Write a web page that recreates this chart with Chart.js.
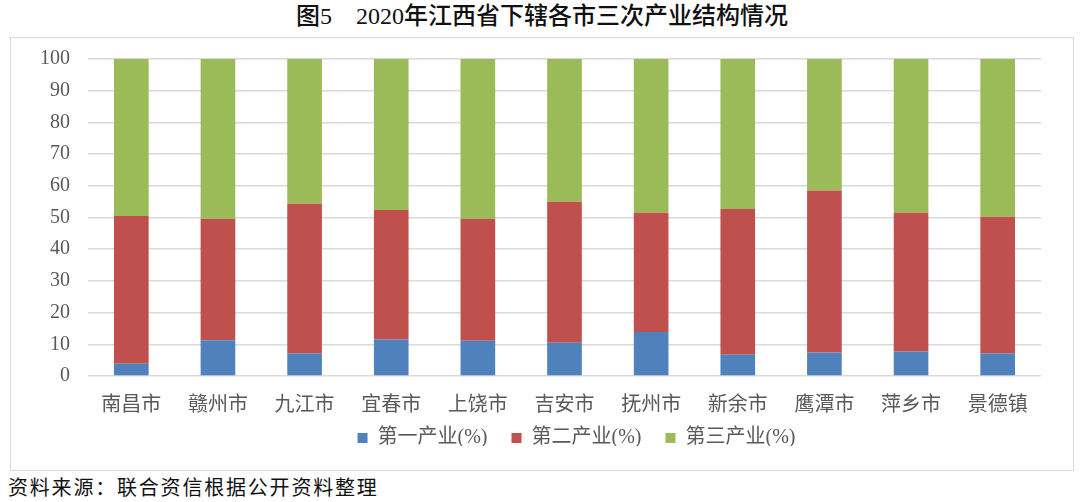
<!DOCTYPE html>
<html lang="zh">
<head>
<meta charset="UTF-8">
<title>2020年江西省下辖各市三次产业结构情况</title>
<script src="https://cdn.jsdelivr.net/npm/chart.js@4/dist/chart.umd.min.js"></script>
<style>
  body { margin: 0; width: 1080px; height: 502px; background: #fff; position: relative; overflow: hidden; }
  #title {
    position: absolute; left: 0; top: 0; width: 1084px; text-align: center;
    font-family: "Liberation Serif", "Noto Sans CJK SC", serif; font-weight: 500;
    font-size: 24px; line-height: 32px; color: #111;
  }
  #box {
    position: absolute; left: 10px; top: 37px; width: 1062px; height: 432px;
    border: 1px solid #d9d9d9;
  }
  #source {
    position: absolute; left: 8px; top: 474px; letter-spacing: 1.8px;
    font-family: "Noto Sans CJK SC", sans-serif; font-size: 20px; line-height: 26px; color: #111;
  }
</style>
</head>
<body>
<div id="title">图5&nbsp;&nbsp;&nbsp;&nbsp;2020年江西省下辖各市三次产业结构情况</div>
<div id="box"><canvas id="chart" width="1062" height="432"></canvas></div>
<div id="source">资料来源：联合资信根据公开资料整理</div>

<script>
  // 数据
  const cities = ['南昌市', '赣州市', '九江市', '宜春市', '上饶市', '吉安市', '抚州市', '新余市', '鹰潭市', '萍乡市', '景德镇'];
  const primary = [3.9, 11.3, 7.1, 11.5, 11.1, 10.5, 13.9, 6.7, 7.4, 7.7, 7.1];
  const secondary = [46.6, 38.2, 47.2, 40.9, 38.4, 44.5, 37.6, 46.0, 51.1, 43.8, 43.1];
  const tertiary = [49.5, 50.5, 45.7, 47.6, 50.5, 45.0, 48.5, 47.3, 41.5, 48.5, 49.8];
  const yTicks = [0, 10, 20, 30, 40, 50, 60, 70, 80, 90, 100];

  const textFont = "'Liberation Serif', 'Noto Sans CJK SC', serif";

  // 图例上移右移：水平间距要大、垂直间距要小
  const legendLift = {
    id: 'legendLift',
    afterLayout(chart) {
      const lg = chart.legend;
      lg.top -= 24;
      lg.bottom -= 24;
      lg.left += 12;
      lg.right += 12;
    }
  };

  const ctx = document.getElementById('chart').getContext('2d');
  new Chart(ctx, {
    type: 'bar',
    data: {
      labels: cities,
      datasets: [
        { label: '第一产业(%)', data: primary, backgroundColor: '#4F81BD' },
        { label: '第二产业(%)', data: secondary, backgroundColor: '#C0504D' },
        { label: '第三产业(%)', data: tertiary, backgroundColor: '#9BBB59' }
      ]
    },
    options: {
      responsive: false,
      animation: false,
      layout: { padding: { left: 11, right: 32, top: 21, bottom: 0 } },
      datasets: { bar: { barPercentage: 0.8, categoryPercentage: 0.5 } },
      scales: {
        x: {
          stacked: true,
          grid: { display: false },
          border: { display: false },
          ticks: { color: '#595959', font: { family: textFont, size: 20 }, padding: 10 }
        },
        y: {
          stacked: true,
          min: 0, max: 100,
          afterBuildTicks: axis => { axis.ticks = yTicks.map(v => ({ value: v })); },
          afterFit: axis => { axis.paddingTop = 12; axis.paddingBottom = 12; },
          grid: { color: '#d9d9d9', lineWidth: 1.5, drawTicks: false },
          border: { display: false },
          ticks: { color: '#595959', font: { family: textFont, size: 20 }, padding: 18 }
        }
      },
      plugins: {
        legend: {
          position: 'bottom',
          fullSize: false,
          maxHeight: 42,
          labels: {
            boxWidth: 10, boxHeight: 10, padding: 24, color: '#595959',
            font: { family: textFont, size: 20 }
          }
        },
        tooltip: { enabled: false }
      }
    },
    plugins: [legendLift]
  });
</script>
</body>
</html>
